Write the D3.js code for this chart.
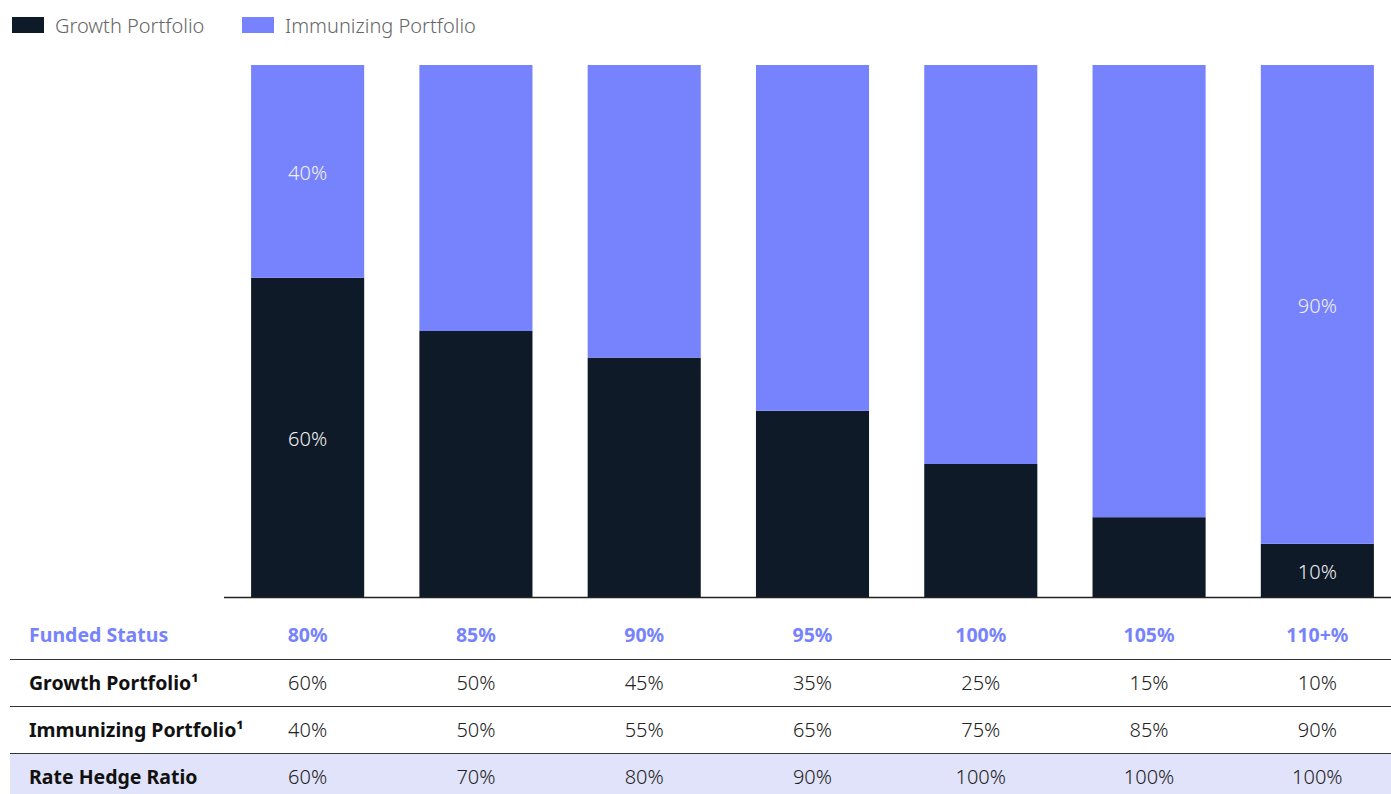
<!doctype html>
<html>
<head>
  <script src="https://cdnjs.cloudflare.com/ajax/libs/d3/7.8.5/d3.min.js"></script>
  <style>
    body { margin: 0; background: #fff; }
    svg { display: block; font-family: "Noto Sans", sans-serif; }
  </style>
</head>
<body>
  <svg id="chart" width="1391" height="794"></svg>
<script>
  // funded status buckets (x categories)
  var fundedStatus = ["80%", "85%", "90%", "95%", "100%", "105%", "110+%"];
  // allocations, percent
  var growth = [60, 50, 45, 35, 25, 15, 10];
  var immunizing = [40, 50, 55, 65, 75, 85, 90];
  var hedgeRatio = [60, 70, 80, 90, 100, 100, 100];
  var seriesNames = ["Growth Portfolio", "Immunizing Portfolio"];
  // only first and last columns carry in-bar labels
  var labelled = ["80%", "110+%"];

  var dark = "#0e1a28", blue = "#7783fc";

  var svg = d3.select("#chart");

  var x = d3.scaleBand()
    .domain(fundedStatus)
    .range([223.5, 1401.5])
    .paddingInner(0.328)
    .paddingOuter(0.164);

  var y = d3.scaleLinear()
    .domain([0, 100])
    .range([597, 65]);

  var rows = fundedStatus.map(function(f, i) {
    return { key: f, growth: growth[i], immunizing: immunizing[i] };
  });
  var stack = d3.stack().keys(["growth", "immunizing"])(rows);
  var colors = { growth: dark, immunizing: blue };

  var layers = svg.selectAll("g.layer")
    .data(stack)
    .enter().append("g")
    .attr("class", "layer")
    .attr("fill", function(d) { return colors[d.key]; });

  layers.selectAll("rect")
    .data(function(d) { return d; })
    .enter().append("rect")
    .attr("x", function(d) { return x(d.data.key); })
    .attr("width", x.bandwidth())
    .attr("y", function(d) { return y(d[1]); })
    .attr("height", function(d) { return y(d[0]) - y(d[1]); });

  layers.selectAll("text")
    .data(function(d) { return d.filter(function(s) { return labelled.indexOf(s.data.key) >= 0; }); })
    .enter().append("text")
    .attr("x", function(d) { return x(d.data.key) + x.bandwidth() / 2; })
    .attr("y", function(d) { return (y(d[0]) + y(d[1])) / 2; })
    .attr("dy", "0.45em")
    .attr("text-anchor", "middle")
    .attr("fill", "#f0f0f0")
    .style("font-size", "20px")
    .style("font-weight", 300)
    .text(function(d) { return (d[1] - d[0]) + "%"; });

  // baseline
  svg.append("line")
    .attr("x1", 224).attr("x2", 1391)
    .attr("y1", y(0) + 0.5).attr("y2", y(0) + 0.5)
    .attr("stroke", "#222").attr("stroke-width", 1.3);

  // legend
  var legend = svg.append("g").selectAll("g")
    .data(seriesNames)
    .enter().append("g")
    .attr("transform", function(d, i) { return "translate(" + (12 + i * 230) + ",0)"; });
  legend.append("rect")
    .attr("y", 17).attr("width", 32).attr("height", 16)
    .attr("fill", function(d, i) { return i === 0 ? dark : blue; });
  legend.append("text")
    .attr("x", 43).attr("y", 25).attr("dy", "0.38em")
    .attr("fill", "#666")
    .style("font-size", "20px")
    .style("font-weight", 300)
    .text(function(d) { return d; });

  // table under the chart
  var table = svg.append("g");
  table.append("rect")
    .attr("x", 10).attr("y", 753).attr("width", 1381).attr("height", 41)
    .attr("fill", "#e1e3fa");
  [659.5, 706.5, 753.5].forEach(function(ly) {
    table.append("line")
      .attr("x1", 10).attr("x2", 1391).attr("y1", ly).attr("y2", ly)
      .attr("stroke", "#333").attr("stroke-width", 1.2);
  });

  var tableRows = [
    { label: "Funded Status", values: fundedStatus, y: 635, head: true },
    { label: "Growth Portfolio\u00b9", values: growth.map(function(v) { return v + "%"; }), y: 683 },
    { label: "Immunizing Portfolio\u00b9", values: immunizing.map(function(v) { return v + "%"; }), y: 730 },
    { label: "Rate Hedge Ratio", values: hedgeRatio.map(function(v) { return v + "%"; }), y: 777 }
  ];

  var tr = table.selectAll("g.row")
    .data(tableRows)
    .enter().append("g")
    .attr("class", "row");

  tr.append("text")
    .attr("x", 29)
    .attr("y", function(d) { return d.y; })
    .attr("dy", "0.36em")
    .attr("fill", function(d) { return d.head ? blue : "#111"; })
    .style("font-size", "19.5px")
    .style("font-weight", "bold")
    .text(function(d) { return d.label; });

  tr.selectAll("text.val")
    .data(function(d) { return d.values.map(function(v, i) { return { v: v, i: i, row: d }; }); })
    .enter().append("text")
    .attr("class", "val")
    .attr("x", function(d) { return x(fundedStatus[d.i]) + x.bandwidth() / 2; })
    .attr("y", function(d) { return d.row.y; })
    .attr("dy", "0.36em")
    .attr("text-anchor", "middle")
    .attr("fill", function(d) { return d.row.head ? blue : "#222"; })
    .style("font-size", function(d) { return d.row.head ? "19.5px" : "20px"; })
    .style("font-weight", function(d) { return d.row.head ? "bold" : 300; })
    .text(function(d) { return d.v; });
</script>
</body>
</html>
